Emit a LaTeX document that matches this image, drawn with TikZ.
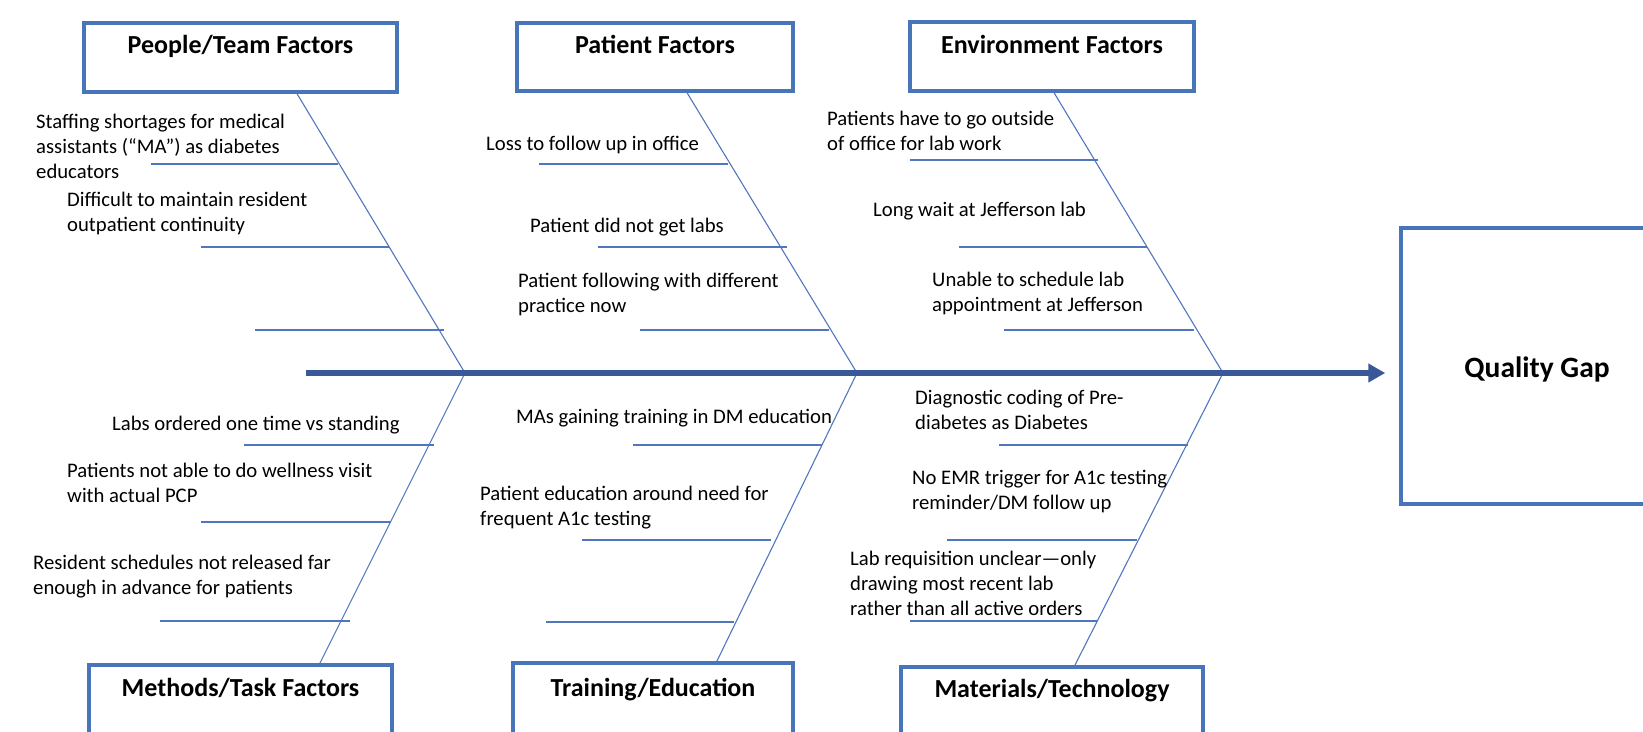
\documentclass[tikz,border=0pt]{standalone}
\usepackage{fontspec}
\setmainfont{Carlito}
\usetikzlibrary{arrows.meta}
\definecolor{boxblue}{RGB}{70,117,185}
\definecolor{spineblue}{RGB}{58,88,152}
\definecolor{bonecol}{RGB}{80,118,190}
\tikzset{
  catbox/.style={draw=boxblue, line width=3.5pt, fill=white, inner sep=0pt},
  cattitle/.style={font=\fontsize{26}{31}\selectfont\bfseries, inner sep=0pt, anchor=base},
  gaptitle/.style={font=\fontsize{29.5}{35}\selectfont\bfseries, inner sep=0pt, anchor=base},
  % multi-line causes: the base anchor sits on the baseline of the last line
  cause/.style={font=\fontsize{20.7}{25.3}\selectfont, align=left, inner sep=0pt, anchor=base west},
  bone/.style={draw=bonecol, line width=1.1pt},
  spine/.style={draw=spineblue, line width=5.5pt, -{Triangle[length=17pt,width=18pt]}},
}
\begin{document}
\begin{tikzpicture}[x=1pt,y=-1pt]
\useasboundingbox (0,0) rectangle (1643,731);
\clip (0,0) rectangle (1643,731);

% junctions on the spine
\coordinate (J1) at (465,373);
\coordinate (J2) at (857,373);
\coordinate (J3) at (1223,373);

% category boxes
\node[catbox, minimum width=313pt, minimum height=69pt] (people) at (240.5,57.5) {};
\node[catbox, minimum width=276pt, minimum height=68pt] (patient) at (655,57) {};
\node[catbox, minimum width=284pt, minimum height=69pt] (environ) at (1052,56.5) {};
\node[catbox, minimum width=303pt, minimum height=120pt] (methods) at (240.5,725) {};
\node[catbox, minimum width=280pt, minimum height=120pt] (training) at (653,723) {};
\node[catbox, minimum width=302pt, minimum height=120pt] (materials) at (1052,727) {};
\node[catbox, minimum width=272pt, minimum height=276pt] (gap) at (1537,366) {};

% attachment points of the main bones on the boxes
\coordinate (peopleA) at (296,92);
\coordinate (patientA) at (686,91);
\coordinate (environA) at (1053,91);
\coordinate (methodsA) at (319,665);
\coordinate (trainingA) at (716,663);
\coordinate (materialsA) at (1074,667);

% main bones
\draw[bone] (peopleA) -- (J1);
\draw[bone] (patientA) -- (J2);
\draw[bone] (environA) -- (J3);
\draw[bone] (J1) -- (methodsA);
\draw[bone] (J2) -- (trainingA);
\draw[bone] (J3) -- (materialsA);

% cause lines
\foreach \y/\a/\b in {164/151/338, 247/201/389, 330/255/444,
                      164/539/728, 247/598/787, 330/640/829,
                      160/910/1098, 247/959/1147, 330/1004/1194,
                      445/244/434, 522/201/391, 621/160/350,
                      445/633/822, 540/582/771, 622/546/734,
                      445/999/1188, 540/947/1137, 621/910/1097}
  \draw[bone] (\a,\y) -- (\b,\y);

% spine
\coordinate (tail) at (306,373);
\draw[spine] (tail) -- ([xshift=-14pt]gap.west |- tail);

% titles
\node[cattitle] (peopleT) at (240.5,53) {People/Team Factors};
\node[cattitle] (patientT) at (655,53) {Patient Factors};
\node[cattitle] (environT) at (1052,53) {Environment Factors};
\node[cattitle] (methodsT) at (240.5,696) {Methods/Task Factors};
\node[cattitle] (trainingT) at (653,696) {Training/Education};
\node[cattitle] (materialsT) at (1052,697) {Materials/Technology};
\node[gaptitle] (gapT) at (1537,377) {Quality Gap};

% causes
\node[cause] (p1) at (36,178.6) {Staffing shortages for medical\\assistants (“MA”) as diabetes\\educators};
\node[cause] (p2) at (67,231.3) {Difficult to maintain resident\\outpatient continuity};
\node[cause] (q1) at (486,150) {Loss to follow up in office};
\node[cause] (q2) at (530,232) {Patient did not get labs};
\node[cause] (q3) at (518,312.3) {Patient following with different\\practice now};
\node[cause] (e1) at (827,150.3) {Patients have to go outside\\of office for lab work};
\node[cause] (e2) at (873,216) {Long wait at Jefferson lab};
\node[cause] (e3) at (932,311.3) {Unable to schedule lab\\appointment at Jefferson};
\node[cause] (m1) at (112,430) {Labs ordered one time vs standing};
\node[cause] (m2) at (67,502.3) {Patients not able to do wellness visit\\with actual PCP};
\node[cause] (m3) at (33,594.3) {Resident schedules not released far\\enough in advance for patients};
\node[cause] (t1) at (516,423) {MAs gaining training in DM education};
\node[cause] (t2) at (480,525.3) {Patient education around need for\\frequent A1c testing};
\node[cause] (r1) at (915,429.3) {Diagnostic coding of Pre-\\diabetes as Diabetes};
\node[cause] (r2) at (912,509.3) {No EMR trigger for A1c testing\\reminder/DM follow up};
\node[cause] (r3) at (850,615.6) {Lab requisition unclear—only\\drawing most recent lab\\rather than all active orders};
\end{tikzpicture}
\end{document}
